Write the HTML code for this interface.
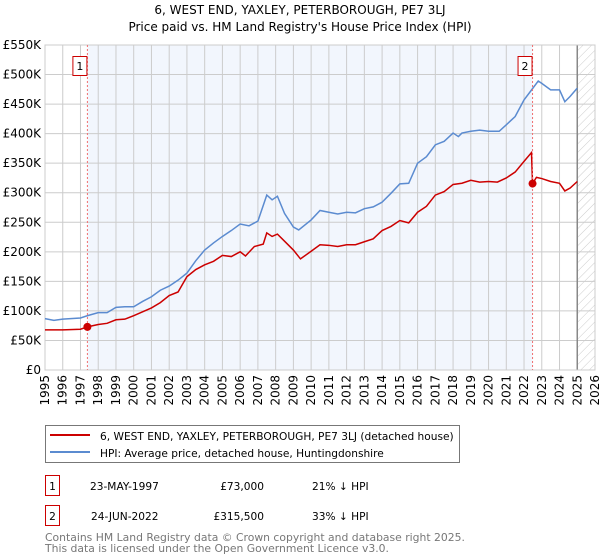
<!DOCTYPE html>
<html><head><meta charset="utf-8"><style>
body{margin:0;background:#fff;font-family:"Liberation Sans","DejaVu Sans",sans-serif;}
svg{display:block}
</style></head><body>
<svg id="c" width="600" height="560" xmlns="http://www.w3.org/2000/svg" font-family="DejaVu Sans, Liberation Sans, sans-serif">
<defs><pattern id="hatch" width="6" height="6" patternUnits="userSpaceOnUse" patternTransform="rotate(45)"><line x1="0" y1="0" x2="0" y2="6" stroke="#ccc" stroke-width="1"/></pattern></defs>
<text x="300" y="14" text-anchor="middle" font-size="12">6, WEST END, YAXLEY, PETERBOROUGH, PE7 3LJ</text>
<text x="300" y="31" text-anchor="middle" font-size="12">Price paid vs. HM Land Registry's House Price Index (HPI)</text>
<g id="plot"></g>
<g>
<rect x="45.5" y="425.5" width="414" height="37" fill="#fff" stroke="#777"/>
<line x1="50" y1="435" x2="90" y2="435" stroke="#cc0000" stroke-width="2"/>
<text x="100" y="440" font-size="10.6">6, WEST END, YAXLEY, PETERBOROUGH, PE7 3LJ (detached house)</text>
<line x1="50" y1="452" x2="90" y2="452" stroke="#5b8bd0" stroke-width="2"/>
<text x="100" y="457" font-size="10.6">HPI: Average price, detached house, Huntingdonshire</text>
</g>
<g font-size="10.6">
<rect x="45.5" y="475.5" width="14" height="20" fill="#fff" stroke="#cc0000"/>
<text x="52.5" y="490" text-anchor="middle">1</text>
<text x="90" y="490">23-MAY-1997</text><text x="264" y="490" text-anchor="end">£73,000</text><text x="312" y="490">21% ↓ HPI</text>
<rect x="45.5" y="505.5" width="14" height="20" fill="#fff" stroke="#cc0000"/>
<text x="52.5" y="520" text-anchor="middle">2</text>
<text x="91" y="520">24-JUN-2022</text><text x="264" y="520" text-anchor="end">£315,500</text><text x="312" y="520">33% ↓ HPI</text>
</g>
<text x="45" y="541" font-size="10.8" fill="#777">Contains HM Land Registry data © Crown copyright and database right 2025.</text>
<text x="45" y="552" font-size="10.8" fill="#777">This data is licensed under the Open Government Licence v3.0.</text>
</svg>
<script>
const yTicks=[0,50,100,150,200,250,300,350,400,450,500,550];
const yTickLabels=["£0","£50K","£100K","£150K","£200K","£250K","£300K","£350K","£400K","£450K","£500K","£550K"];
const xYears=[1995,1996,1997,1998,1999,2000,2001,2002,2003,2004,2005,2006,2007,2008,2009,2010,2011,2012,2013,2014,2015,2016,2017,2018,2019,2020,2021,2022,2023,2024,2025,2026];
const hpiT=[1995,1995.5,1996,1997,1997.4,1998,1998.5,1999,1999.5,2000,2000.5,2001,2001.5,2002,2002.5,2003,2003.5,2004,2004.5,2005,2005.5,2006,2006.5,2007,2007.5,2007.8,2008.1,2008.5,2009,2009.3,2010,2010.5,2011,2011.5,2012,2012.5,2013,2013.5,2014,2014.5,2015,2015.5,2016,2016.5,2017,2017.5,2018,2018.3,2018.5,2019,2019.5,2020,2020.6,2021,2021.5,2022,2022.5,2022.8,2023,2023.5,2024,2024.3,2024.6,2025];
const hpiV=[87,84,86,88,92,97,97,106,107,107,116,124,135,142,152,164,185,203,215,226,236,247,244,252,296,288,294,265,242,237,254,270,267,264,267,266,273,276,284,299,315,316,350,361,381,387,401,395,401,404,406,404,404,415,429,457,477,489,485,474,474,454,463,477];
const ppT=[1995,1996,1997,1997.39,1998,1998.5,1999,1999.5,2000,2001,2001.5,2002,2002.5,2003,2003.5,2004,2004.5,2005,2005.5,2006,2006.3,2006.8,2007.3,2007.5,2007.8,2008.1,2008.6,2009,2009.4,2010,2010.5,2011,2011.5,2012,2012.5,2013,2013.5,2014,2014.5,2015,2015.5,2016,2016.5,2017,2017.5,2018,2018.5,2019,2019.5,2020,2020.5,2021,2021.5,2022,2022.42,2022.48,2022.7,2023,2023.5,2024,2024.3,2024.6,2025];
const ppV=[68,68,69,73,77,79,85,86,92,105,114,126,132,158,170,178,184,194,192,200,193,209,213,232,226,230,215,203,188,201,212,211,209,212,212,217,222,236,243,253,249,267,277,296,302,314,316,321,318,319,318,325,335,353,368,315.5,326,324,319,316,303,308,319];
const sales=[{n:"1",t:1997.39,v:73},{n:"2",t:2022.48,v:315.5}];
const L=45,R=595,T=45,B=370,x0=1995,x1=2026,yMax=550;
const X=t=>L+(t-x0)/(x1-x0)*(R-L);
const Y=v=>B-v/yMax*(B-T);
const NS="http://www.w3.org/2000/svg";
const g=document.getElementById('plot');
function mk(tag,attrs,parent){const e=document.createElementNS(NS,tag);for(const k in attrs)e.setAttribute(k,attrs[k]);(parent||g).appendChild(e);return e;}
let e;
e=mk('rect',{x:X(sales[0].t),y:T,width:X(sales[1].t)-X(sales[0].t),height:B-T,fill:'#f2f6fd'});


e=mk('rect',{x:X(2025),y:T,width:R-X(2025),height:B-T,fill:'url(#hatch)'});


yTicks.forEach((v,i)=>{
  e=mk('line',{x1:L,x2:R,y1:Y(v),y2:Y(v),stroke:'#ccc','stroke-width':1});
  
  
  e=mk('text',{x:L-4,y:Y(v)+4,'text-anchor':'end','font-size':12});
  e.textContent=yTickLabels[i];
  
  
});
xYears.forEach(yr=>{
  e=mk('line',{x1:X(yr),x2:X(yr),y1:T,y2:B,stroke:'#ccc','stroke-width':1});
  
  
  e=mk('text',{transform:`translate(${X(yr)+4},${B+5}) rotate(-90)`,'text-anchor':'end','font-size':12});
  e.textContent=yr;
  
  
});
e=mk('line',{x1:X(2025),x2:X(2025),y1:T,y2:B,stroke:'#888','stroke-width':1.5});


e=mk('rect',{x:L,y:T,width:R-L,height:B-T,fill:'none',stroke:'#ccc'});


e=mk('polyline',{points:hpiT.map((t,i)=>X(t)+','+Y(hpiV[i])).join(' '),fill:'none',stroke:'#5b8bd0','stroke-width':1.5});


e=mk('polyline',{points:ppT.map((t,i)=>X(t)+','+Y(ppV[i])).join(' '),fill:'none',stroke:'#cc0000','stroke-width':1.5});


sales.forEach(s=>{
  e=mk('line',{x1:X(s.t),x2:X(s.t),y1:T,y2:B,stroke:'#f07070','stroke-dasharray':'2,2'});
  
  
  e=mk('circle',{cx:X(s.t),cy:Y(s.v),r:4,fill:'#cc0000'});
  
  
  e=mk('rect',{x:X(s.t)-14.5,y:56.5,width:14,height:19,fill:'#fff',stroke:'#cc0000'});
  
  
  e=mk('text',{x:X(s.t)-7.5,y:70,'text-anchor':'middle','font-size':11});
  e.textContent=s.n;
  
  
});
</script>
</body></html>
